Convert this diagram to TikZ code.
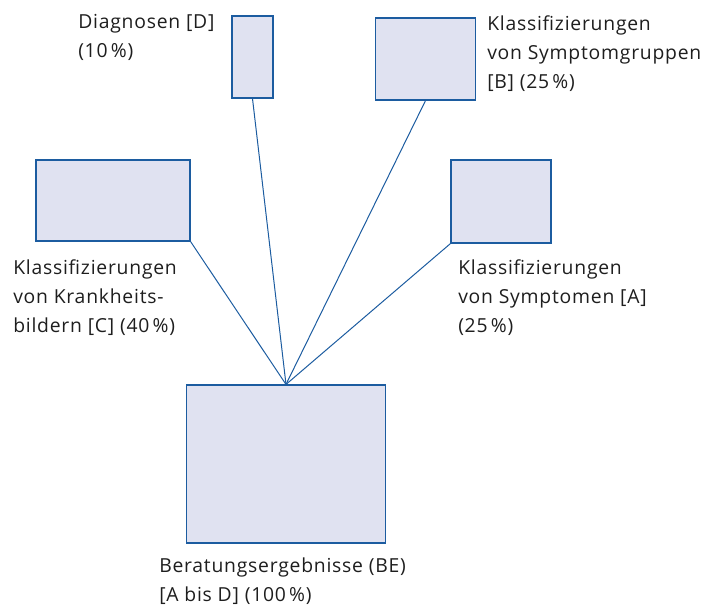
\documentclass[tikz,border=0pt]{standalone}
\usepackage{fontspec}
\setmainfont[LetterSpace=4]{Open Sans}
\usepackage{tikz}

\definecolor{boxfill}{RGB}{224,226,241}
\definecolor{boxline}{RGB}{28,92,160}
\definecolor{txt}{RGB}{30,30,30}

\begin{document}
\begin{tikzpicture}[x=0.75pt, y=-0.75pt,
  box/.style={draw=boxline, fill=boxfill, line width=0.9pt, inner sep=0pt},
  lbl/.style={anchor=base west, align=left, inner sep=0pt, text=txt,
    font=\fontsize{14.5}{21.5}\selectfont},
  link/.style={draw=boxline, line width=0.75pt}]

\useasboundingbox (0,0) rectangle (715,612);

\node[box, minimum width=30.75pt, minimum height=61.5pt] (d) at (252.5,57) {};
\node[box, minimum width=75pt, minimum height=61.5pt] (b) at (425.5,59) {};
\node[box, minimum width=115.5pt, minimum height=60.75pt] (c) at (113,200.5) {};
\node[box, minimum width=75pt, minimum height=62.25pt] (a) at (501,201.5) {};
\node[box, minimum width=149.25pt, minimum height=118.5pt] (be) at (286,464) {};

% base anchor sits on the last line
\node[lbl] (dl) at (78,57) {Diagnosen [D]\\(10\,\%)};
\node[lbl] (bl) at (487,88) {Klassifizierungen\\von Symptomgruppen\\{[B]} (25\,\%)};
\node[lbl] (cl) at (13,332) {Klassifizierungen\\von Krankheits-\\bildern [C] (40\,\%)};
\node[lbl] (al) at (458,332) {Klassifizierungen\\von Symptomen [A]\\(25\,\%)};
\node[lbl] (bel) at (159,601) {Beratungsergebnisse (BE)\\{[A} bis D] (100\,\%)};

\draw[link] (be.north) -- (d.south);
\draw[link] (be.north) -- (b.south);
\draw[link] (be.north) -- (c.south east);
\draw[link] (be.north) -- (a.south west);

\end{tikzpicture}
\end{document}
